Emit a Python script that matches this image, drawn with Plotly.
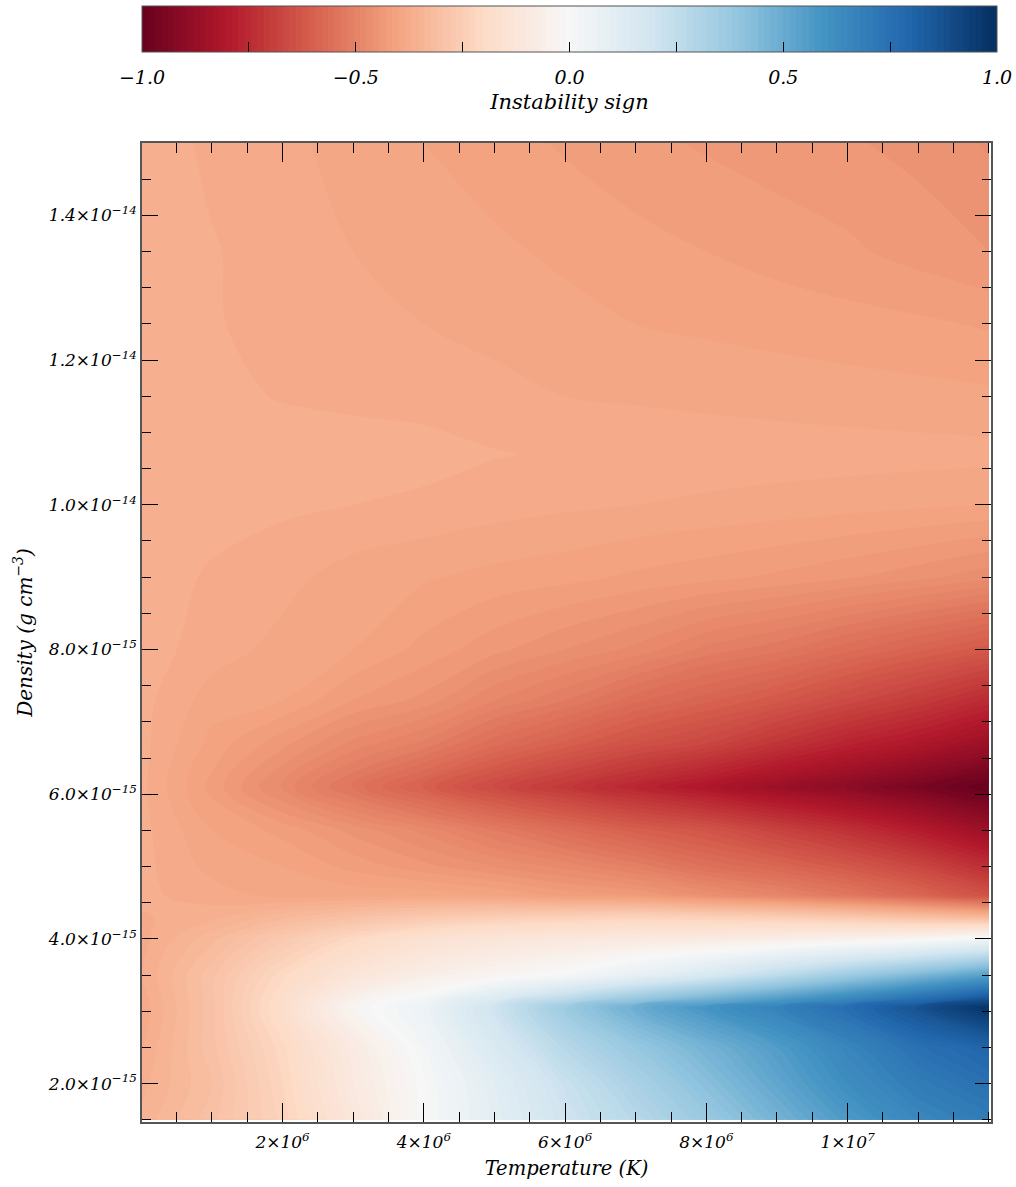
import plotly.graph_objects as go

# ---- data ----
temperature_K = [1e4, 1e6, 2e6, 3e6, 4e6, 5e6, 6e6, 7e6, 8e6, 9e6, 1e7, 1.1e7, 1.2e7]
density_gcm3 = [1.5e-15, 2.0e-15, 2.5e-15, 3.05e-15, 3.5e-15, 4.0e-15, 4.3e-15, 4.6e-15,
                5.0e-15, 5.5e-15, 6.1e-15, 6.7e-15, 7.3e-15, 8.0e-15, 9.0e-15, 1.0e-14,
                1.07e-14, 1.15e-14, 1.25e-14, 1.35e-14, 1.5e-14]

sign_rho_1p50 = [-0.35, -0.30, -0.23, -0.12, 0.00, 0.10, 0.20, 0.28, 0.37, 0.47, 0.57, 0.65, 0.70]
sign_rho_2p00 = [-0.36, -0.31, -0.22, -0.10, 0.00, 0.11, 0.22, 0.32, 0.42, 0.52, 0.62, 0.70, 0.75]
sign_rho_2p50 = [-0.37, -0.30, -0.21, -0.09, 0.02, 0.15, 0.28, 0.38, 0.47, 0.56, 0.66, 0.75, 0.80]
sign_rho_3p05 = [-0.38, -0.30, -0.18, -0.03, 0.05, 0.20, 0.36, 0.49, 0.59, 0.67, 0.76, 0.87, 0.98]
sign_rho_3p50 = [-0.37, -0.30, -0.21, -0.13, -0.07, -0.03, 0.01, 0.08, 0.16, 0.26, 0.36, 0.45, 0.55]
sign_rho_4p00 = [-0.375, -0.33, -0.27, -0.21, -0.16, -0.13, -0.11, -0.10, -0.09, -0.07, -0.05, -0.02, 0.03]
sign_rho_4p30 = [-0.372, -0.36, -0.33, -0.30, -0.27, -0.25, -0.24, -0.23, -0.24, -0.25, -0.27, -0.30, -0.33]
sign_rho_4p60 = [-0.366, -0.378, -0.39, -0.39, -0.39, -0.40, -0.42, -0.43, -0.46, -0.49, -0.53, -0.58, -0.64]
sign_rho_5p00 = [-0.365, -0.39, -0.40, -0.42, -0.44, -0.46, -0.48, -0.51, -0.55, -0.58, -0.62, -0.67, -0.74]
sign_rho_5p50 = [-0.365, -0.40, -0.42, -0.45, -0.48, -0.52, -0.56, -0.60, -0.63, -0.68, -0.73, -0.79, -0.86]
sign_rho_6p10 = [-0.366, -0.42, -0.48, -0.54, -0.60, -0.66, -0.71, -0.76, -0.81, -0.86, -0.90, -0.95, -1.00]
sign_rho_6p70 = [-0.365, -0.405, -0.44, -0.48, -0.51, -0.56, -0.60, -0.64, -0.67, -0.72, -0.77, -0.81, -0.86]
sign_rho_7p30 = [-0.365, -0.392, -0.40, -0.43, -0.45, -0.49, -0.52, -0.56, -0.59, -0.62, -0.66, -0.70, -0.75]
sign_rho_8p00 = [-0.362, -0.378, -0.39, -0.40, -0.42, -0.44, -0.46, -0.48, -0.51, -0.53, -0.56, -0.59, -0.62]
sign_rho_9p00 = [-0.362, -0.372, -0.38, -0.392, -0.398, -0.405, -0.41, -0.418, -0.425, -0.433, -0.443, -0.455, -0.47]
sign_rho_10p0 = [-0.362, -0.364, -0.367, -0.370, -0.374, -0.378, -0.382, -0.385, -0.388, -0.391, -0.394, -0.397, -0.40]
sign_rho_10p7 = [-0.362, -0.362, -0.362, -0.362, -0.363, -0.369, -0.372, -0.374, -0.376, -0.377, -0.378, -0.379, -0.380]
sign_rho_11p5 = [-0.362, -0.366, -0.371, -0.374, -0.377, -0.380, -0.385, -0.387, -0.389, -0.391, -0.393, -0.395, -0.397]
sign_rho_12p5 = [-0.362, -0.369, -0.374, -0.379, -0.385, -0.390, -0.395, -0.400, -0.403, -0.406, -0.409, -0.412, -0.417]
sign_rho_13p5 = [-0.362, -0.369, -0.376, -0.385, -0.391, -0.397, -0.403, -0.409, -0.415, -0.421, -0.427, -0.436, -0.445]
sign_rho_15p0 = [-0.362, -0.373, -0.381, -0.391, -0.400, -0.408, -0.417, -0.426, -0.432, -0.438, -0.443, -0.450, -0.462]

x_tick_vals = [2e6, 4e6, 6e6, 8e6, 1e7]
x_tick_text = ["2×10<sup>6</sup>", "4×10<sup>6</sup>", "6×10<sup>6</sup>", "8×10<sup>6</sup>", "1×10<sup>7</sup>"]
y_tick_vals = [2e-15, 4e-15, 6e-15, 8e-15, 1.0e-14, 1.2e-14, 1.4e-14]
y_tick_text = ["2.0×10<sup>−15</sup>", "4.0×10<sup>−15</sup>", "6.0×10<sup>−15</sup>", "8.0×10<sup>−15</sup>",
               "1.0×10<sup>−14</sup>", "1.2×10<sup>−14</sup>", "1.4×10<sup>−14</sup>"]
cb_tick_vals = [-1.0, -0.75, -0.5, -0.25, 0.0, 0.25, 0.5, 0.75, 1.0]
cb_label_vals = [-1.0, -0.5, 0.0, 0.5, 1.0]
cb_label_text = ["−1.0", "−0.5", "0.0", "0.5", "1.0"]
cb_range = [-1.0, 1.0]

z = [sign_rho_1p50, sign_rho_2p00, sign_rho_2p50, sign_rho_3p05, sign_rho_3p50, sign_rho_4p00,
     sign_rho_4p30, sign_rho_4p60, sign_rho_5p00, sign_rho_5p50, sign_rho_6p10, sign_rho_6p70,
     sign_rho_7p30, sign_rho_8p00, sign_rho_9p00, sign_rho_10p0, sign_rho_10p7, sign_rho_11p5,
     sign_rho_12p5, sign_rho_13p5, sign_rho_15p0]

rdbu = ["rgb(103,0,31)", "rgb(178,24,43)", "rgb(214,96,77)", "rgb(244,165,130)", "rgb(253,219,199)",
        "rgb(247,247,247)", "rgb(209,229,240)", "rgb(146,197,222)", "rgb(67,147,195)",
        "rgb(33,102,172)", "rgb(5,48,97)"]
colorscale = [[i / (len(rdbu) - 1), c] for i, c in enumerate(rdbu)]
clear_scale = [[0, "rgba(0,0,0,0)"], [1, "rgba(0,0,0,0)"]]

W, H = 1016, 1187
FONT = "DejaVu Serif"
tickfont = dict(family=FONT, size=17, color="black", style="italic")

fig = go.Figure()

# the field, with the colour bar (bar + inside ticks)
fig.add_trace(go.Contour(
    x=temperature_K, y=density_gcm3, z=z,
    colorscale=colorscale, zmin=cb_range[0], zmax=cb_range[1],
    contours=dict(start=-1, end=1, size=0.015, coloring="fill", showlines=False),
    line=dict(width=0), hoverinfo="skip",
    colorbar=dict(
        orientation="h", yref="container",
        x=0, xanchor="left", y=1 - 6 / H, yanchor="top",
        lenmode="pixels", len=855, thicknessmode="pixels", thickness=46,
        outlinewidth=1, outlinecolor="#555555", xpad=0, ypad=0,
        ticks="inside", ticklen=10, tickcolor="black",
        tickmode="array", tickvals=cb_tick_vals, showticklabels=False,
    ),
))

# labels and title of the colour bar (transparent bar)
fig.add_trace(go.Scatter(
    x=[None, None], y=[None, None], mode="markers", hoverinfo="skip", showlegend=False,
    marker=dict(
        color=cb_range, cmin=cb_range[0], cmax=cb_range[1], colorscale=clear_scale, showscale=True,
        colorbar=dict(
            orientation="h", yref="container",
            x=0, xanchor="left", y=1 - 60 / H, yanchor="top",
            lenmode="pixels", len=855, thicknessmode="pixels", thickness=1,
            outlinewidth=0, xpad=0, ypad=0, ticks="",
            tickmode="array", tickvals=cb_label_vals, ticktext=cb_label_text,
            tickfont=dict(family=FONT, size=19, color="black", style="italic"),
            title=dict(text="Instability sign", side="bottom",
                       font=dict(family=FONT, size=21, color="black", style="italic")),
        ),
    ),
))

axis_common = dict(
    showline=True, linecolor="#555555", linewidth=1.5, mirror="ticks",
    ticks="inside", tickcolor="black", tickwidth=1, automargin=False,
    showgrid=False, zeroline=False, tickfont=tickfont,
)

fig.update_layout(
    width=W, height=H,
    margin=dict(l=142, r=25, t=143, b=65),
    paper_bgcolor="white", plot_bgcolor="white",
    showlegend=False,
    xaxis=dict(
        range=[1e4, 1.203e7], tickmode="array", tickvals=x_tick_vals, ticktext=x_tick_text,
        ticklen=19, ticklabelstandoff=4,
        minor=dict(ticks="inside", tick0=0, dtick=5e5, ticklen=10, tickcolor="black"),
        title=dict(text="Temperature (K)", standoff=10,
                   font=dict(family=FONT, size=19.5, color="black", style="italic")),
        **axis_common,
    ),
    yaxis=dict(
        range=[1.47e-15, 1.5e-14], tickmode="array", tickvals=y_tick_vals, ticktext=y_tick_text,
        ticklen=16,
        minor=dict(ticks="inside", tick0=0, dtick=5e-16, ticklen=9, tickcolor="black"),
        title=dict(text="Density (g cm<sup>−3</sup>)", standoff=10,
                   font=dict(family=FONT, size=20, color="black", style="italic")),
        **axis_common,
    ),
)

fig.write_html("out.html")
